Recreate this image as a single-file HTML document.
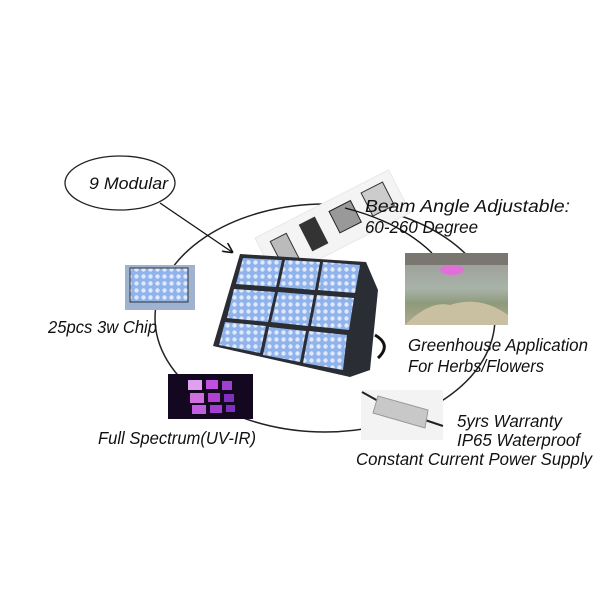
<!DOCTYPE html>
<html><head><meta charset="utf-8"><style>
body{margin:0;background:#fff;}
svg{display:block}
text{font-family:"Liberation Sans",sans-serif;font-style:italic;fill:#111;}
</style></head><body>
<svg width="600" height="600" viewBox="0 0 600 600" xmlns="http://www.w3.org/2000/svg">
<defs>
<marker id="ar" markerWidth="8" markerHeight="8" refX="7" refY="4" orient="auto"><path d="M0,0 L8,4 L0,8" fill="none" stroke="#111" stroke-width="1.2"/></marker>
<pattern id="dots" width="7" height="7" patternUnits="userSpaceOnUse"><rect width="7" height="7" fill="#8fb3ea"/><circle cx="3.5" cy="3.5" r="2.2" fill="#dfe9fb"/></pattern>
<linearGradient id="gh" x1="0" y1="0" x2="0" y2="1"><stop offset="0" stop-color="#9a9a96"/><stop offset="0.5" stop-color="#a8b3a8"/><stop offset="0.7" stop-color="#8e9a7a"/><stop offset="1" stop-color="#b0a890"/></linearGradient>
</defs>
<ellipse cx="325" cy="318" rx="170" ry="114" fill="none" stroke="#222" stroke-width="1.5"/>
<ellipse cx="120" cy="183" rx="55" ry="27" fill="#fff" stroke="#222" stroke-width="1.3"/>
<text x="89" y="189" font-size="17" textLength="79" lengthAdjust="spacingAndGlyphs">9 Modular</text>
<line x1="160" y1="203" x2="232" y2="252" stroke="#111" stroke-width="1.3" marker-end="url(#ar)"/>
<g transform="translate(255,238) rotate(-27)">
<rect x="0" y="0" width="150" height="48" fill="#f4f4f4" stroke="#e8e8e8"/>
<rect x="12" y="10" width="18" height="28" fill="#bbb" stroke="#333"/>
<rect x="45" y="8" width="18" height="30" fill="#333"/>
<rect x="78" y="10" width="24" height="24" fill="#999" stroke="#222"/>
<rect x="115" y="8" width="24" height="26" fill="#ccc" stroke="#333"/>
</g>
<path d="M345 208 Q400 222 432 253" fill="none" stroke="#111" stroke-width="1.3"/>
<text x="365" y="212" font-size="17.5" textLength="205" lengthAdjust="spacingAndGlyphs">Beam Angle Adjustable:</text>
<text x="365" y="233" font-size="17.5" textLength="113" lengthAdjust="spacingAndGlyphs">60-260 Degree</text>
<rect x="405" y="253" width="103" height="72" fill="url(#gh)"/>
<rect x="405" y="253" width="103" height="12" fill="#7a7670"/>
<ellipse cx="452" cy="270" rx="12" ry="5" fill="#e070d8"/>
<path d="M405 325 Q430 300 450 305 Q480 295 508 315 L508 325Z" fill="#c9c0a2"/>
<text x="408" y="351" font-size="17.5" textLength="180" lengthAdjust="spacingAndGlyphs">Greenhouse Application</text>
<text x="408" y="372" font-size="17.5" textLength="136" lengthAdjust="spacingAndGlyphs">For Herbs/Flowers</text>
<polygon points="240,254 366,262 378,290 370,370 350,377 213,346" fill="#2a2d33"/>
<g>
<polygon points="243,258 282,260 276,287 236,284" fill="url(#dots)"/>
<polygon points="285,260 320,262 315,290 279,287" fill="url(#dots)"/>
<polygon points="323,262 360,265 355,293 318,290" fill="url(#dots)"/>
<polygon points="234,289 275,292 268,322 227,318" fill="url(#dots)"/>
<polygon points="278,292 314,295 308,326 271,322" fill="url(#dots)"/>
<polygon points="317,295 354,298 349,330 311,326" fill="url(#dots)"/>
<polygon points="225,322 266,326 260,353 219,345" fill="url(#dots)"/>
<polygon points="269,327 306,331 300,362 263,355" fill="url(#dots)"/>
<polygon points="309,331 347,335 343,370 303,363" fill="url(#dots)"/>
</g>
<path d="M375 335 Q392 345 378 358" fill="none" stroke="#111" stroke-width="3"/>
<rect x="125" y="265" width="70" height="45" fill="#9fb2d0"/>
<rect x="130" y="268" width="58" height="34" fill="url(#dots)" stroke="#333"/>
<text x="48" y="333" font-size="17.5" textLength="109" lengthAdjust="spacingAndGlyphs">25pcs 3w Chip</text>
<rect x="168" y="374" width="85" height="45" fill="#140820"/>
<rect x="188" y="380" width="14" height="10" fill="#e0a0f0"/><rect x="206" y="380" width="12" height="9" fill="#c050e0"/><rect x="222" y="381" width="10" height="9" fill="#a040d0"/>
<rect x="190" y="393" width="14" height="10" fill="#d070e0"/><rect x="208" y="393" width="12" height="9" fill="#b040d0"/><rect x="224" y="394" width="10" height="8" fill="#8030c0"/>
<rect x="192" y="405" width="14" height="9" fill="#c060e0"/><rect x="210" y="405" width="12" height="8" fill="#a040d0"/><rect x="226" y="405" width="9" height="7" fill="#8030c0"/>
<text x="98" y="444" font-size="17.5" textLength="158" lengthAdjust="spacingAndGlyphs">Full Spectrum(UV-IR)</text>
<rect x="361" y="390" width="82" height="50" fill="#f3f3f3"/>
<line x1="362" y1="392" x2="380" y2="402" stroke="#222" stroke-width="2"/>
<line x1="425" y1="420" x2="443" y2="426" stroke="#222" stroke-width="2"/>
<polygon points="378,396 428,410 425,428 373,413" fill="#c8c8c8" stroke="#999"/>
<text x="457" y="427" font-size="17.5" textLength="105" lengthAdjust="spacingAndGlyphs">5yrs Warranty</text>
<text x="457" y="446" font-size="17.5" textLength="123" lengthAdjust="spacingAndGlyphs">IP65 Waterproof</text>
<text x="356" y="465" font-size="17.5" textLength="236" lengthAdjust="spacingAndGlyphs">Constant Current Power Supply</text>
</svg>
</body></html>
